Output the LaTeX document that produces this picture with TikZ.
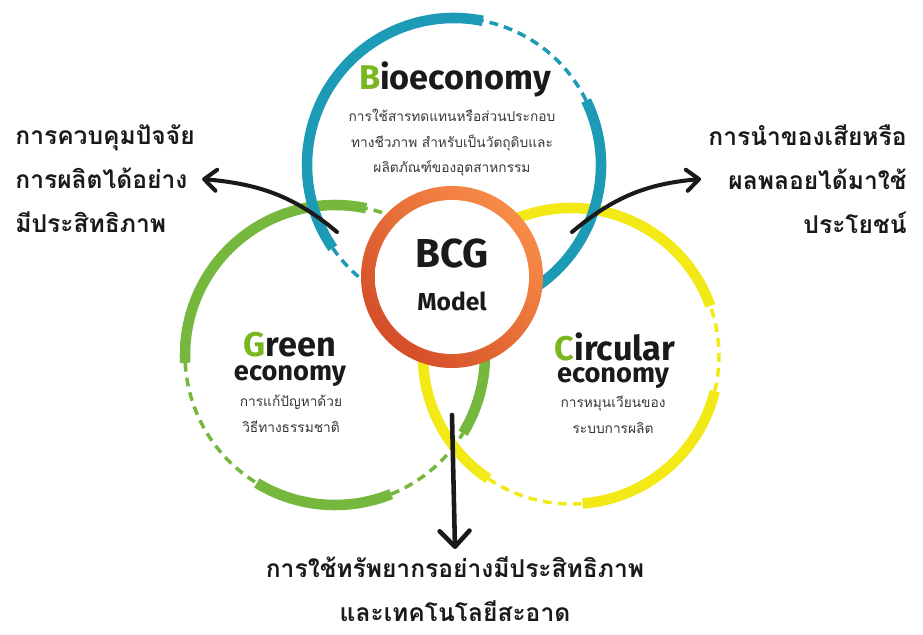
\documentclass[tikz,border=0pt]{standalone}
\usepackage{fontspec}
\setmainfont{Fira Sans}
\newfontfamily\thaifont[Script=Thai]{Loma}
\usetikzlibrary{arrows.meta,positioning}
\usepackage{xcolor}

\definecolor{biocol}{RGB}{28,154,182}
\definecolor{greencol}{RGB}{118,184,62}
\definecolor{circcol}{RGB}{243,233,22}
\definecolor{lettercol}{RGB}{122,182,30}
\definecolor{ringlight}{RGB}{248,140,72}
\definecolor{ringdark}{RGB}{212,78,40}
\definecolor{textcol}{RGB}{26,26,26}
\definecolor{desccol}{RGB}{55,55,55}

\pgfdeclareradialshading{discshade}{\pgfpoint{0bp}{0bp}}{color(0bp)=(white); color(30bp)=(white); color(41bp)=(black!15); color(50bp)=(black!35); color(72bp)=(black!35)}

\begin{document}
\begin{tikzpicture}[x=0.02cm, y=0.02cm,
    solidring/.style={line width=6pt},
    dashring/.style={line width=2pt, dash pattern=on 5pt off 3.5pt},
    bcgarrow/.style={line width=2.3pt, draw=textcol, line cap=round,
        -{Straight Barb[length=7pt, width=12pt, line cap=round, line join=round]}},
    titletext/.style={font=\fontsize{19.5}{22}\selectfont\bfseries, text=textcol, inner sep=0pt, anchor=base},
    econtext/.style={font=\fontsize{15.5}{18}\selectfont\bfseries, text=textcol, inner sep=0pt, anchor=base},
    smallthai/.style={font=\thaifont\fontsize{7.8}{14.7}\selectfont, text=desccol, align=center, inner sep=0pt, anchor=base},
    bigthai/.style={font=\thaifont\bfseries\fontsize{14}{25}\selectfont, text=textcol, inner sep=4pt}
]
    \useasboundingbox (0,0) rectangle (923,-635);

    \coordinate (bio) at (454,-165);
    \coordinate (green) at (335,-355);
    \coordinate (circ) at (571,-356);
    \coordinate (bcg) at (452,-277);

    % green ring
    \draw[greencol, dashring] ([shift={(66:150)}]green) arc[start angle=66, end angle=78, radius=150];
    \draw[greencol, solidring] ([shift={(78:150)}]green) arc[start angle=78, end angle=183, radius=150];
    \draw[greencol, dashring] ([shift={(183:150)}]green) arc[start angle=183, end angle=238.6, radius=150];
    \draw[greencol, solidring] ([shift={(238.6:150)}]green) arc[start angle=238.6, end angle=292, radius=150];
    \draw[greencol, dashring] ([shift={(292:150)}]green) arc[start angle=292, end angle=328.6, radius=150];
    \draw[greencol, solidring] ([shift={(328.6:150)}]green) arc[start angle=328.6, end angle=370, radius=150];

    % yellow ring
    \draw[circcol, solidring] ([shift={(19.8:148)}]circ) arc[start angle=19.8, end angle=236, radius=148];
    \draw[circcol, dashring] ([shift={(236:148)}]circ) arc[start angle=236, end angle=274.5, radius=148];
    \draw[circcol, solidring] ([shift={(274.5:148)}]circ) arc[start angle=274.5, end angle=346.2, radius=148];
    \draw[circcol, dashring] ([shift={(346.2:148)}]circ) arc[start angle=346.2, end angle=379.8, radius=148];

    % blue ring
    \draw[biocol, solidring] ([shift={(78.7:147)}]bio) arc[start angle=78.7, end angle=214.4, radius=147];
    \draw[biocol, dashring] ([shift={(214.4:147)}]bio) arc[start angle=214.4, end angle=242, radius=147];
    \draw[biocol, dashring] ([shift={(26:147)}]bio) arc[start angle=26, end angle=78.7, radius=147];
    \draw[biocol, solidring] ([shift={(-62:147)}]bio) arc[start angle=-62, end angle=26, radius=147];

    % centre disc
    \shade[top color=ringlight, bottom color=ringdark, shading angle=-45] (bcg) circle[radius=91];
    \shade[shading=discshade] (bcg) circle[radius=77];
    \node (bcgtitle) [font=\fontsize{23}{26}\selectfont\bfseries, text=textcol, anchor=base] at (452,-267) {BCG};
    \node (bcgmodel) [font=\fontsize{14}{16}\selectfont\bfseries, text=textcol, anchor=base] at (452,-310) {Model};

    % titles
    \node (biotitle) [titletext] at (455,-90) {{\color{lettercol}B}ioeconomy};
    \node (biodesc) [smallthai] at (452,-173)
    {
        การใช้สารทดแทนหรือส่วนประกอบ\\ทางชีวภาพ สำหรับเป็นวัตถุดิบและ\\ผลิตภัณฑ์ของอุตสาหกรรม
    };
    \node (greentitle) [titletext] at (290,-356) {{\color{lettercol}G}reen};
    \node (greenecon) [econtext] at (290,-380) {economy};
    \node (greendesc) [smallthai] at (291,-432)
    {
        การแก้ปัญหาด้วย\\วิธีทางธรรมชาติ
    };
    \node (circtitle) [titletext] at (615,-360) {{\color{lettercol}C}ircular};
    \node (circecon) [econtext] at (613,-382) {economy};
    \node (circdesc) [smallthai] at (613,-433)
    {
        การหมุนเวียนของ\\ระบบการผลิต
    };

    % outcomes
    \node (ctrltext) [bigthai, align=left, anchor=west] at (8,-179)
    {
        การควบคุมปัจจัย\\การผลิตได้อย่าง\\มีประสิทธิภาพ
    };
    \node (wastetext) [bigthai, align=right, anchor=east] at (914,-179)
    {
        การนำของเสียหรือ\\ผลพลอยได้มาใช้\\ประโยชน์
    };
    \node (restext) [bigthai, align=center, anchor=north] at (455,-549)
    {
        การใช้ทรัพยากรอย่างมีประสิทธิภาพ\\และเทคโนโลยีสะอาด
    };

    \coordinate (ctrlstart) at (337,-232);
    \coordinate (wastestart) at (572,-232);
    \coordinate (resstart) at (452,-415);

    \draw[bcgarrow] (ctrlstart) to[out=140, in=-5] (ctrltext.east);
    \draw[bcgarrow] (wastestart) to[out=40, in=185] (wastetext.west);
    \draw[bcgarrow, line width=2.6pt, -{Straight Barb[length=9pt, width=17pt, line cap=round, line join=round]}] (resstart) to (restext.north);
\end{tikzpicture}
\end{document}
